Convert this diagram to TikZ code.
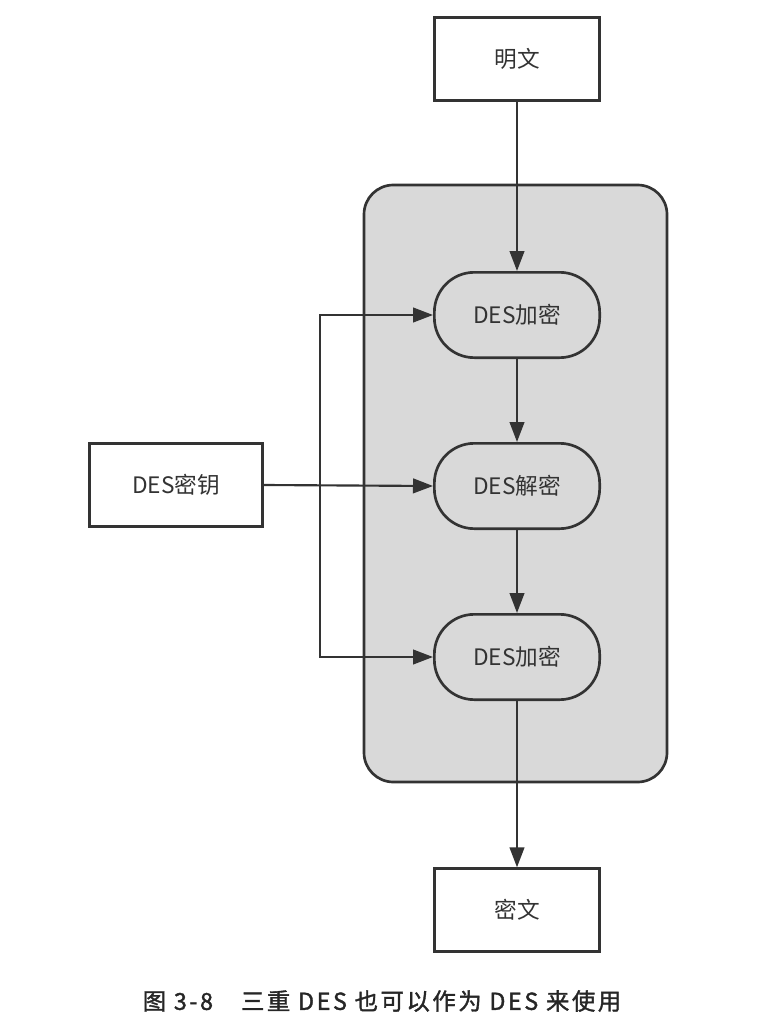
\documentclass[tikz,border=0pt]{standalone}
\usepackage{fontspec}
\setmainfont{Noto Sans CJK SC}
\newfontfamily\capfont[FakeBold=1.5,LetterSpace=11]{Noto Sans CJK SC}
\usetikzlibrary{arrows.meta}

\begin{document}
\begin{tikzpicture}[x=0.75pt,y=-0.75pt,line width=1.6pt,>={Triangle[length=15pt,width=11pt]},
    box/.style={draw=black!80,line width=2pt,minimum width=124pt,minimum height=62pt,inner sep=0pt,text=black!80,font=\fontsize{17}{20}\selectfont},
    stage/.style={box,rounded corners=30pt,minimum height=64pt}]
  \useasboundingbox (0,0) rectangle (764,1034);
  % grey frame round the three stages
  \draw[black!80,fill=black!15,line width=2pt,rounded corners=22pt] (364,185) rectangle (667,782);

  \node[box] (plain) at (517,59) {明文};
  \node[stage] (enc1) at (517,315) {DES加密};
  \node[stage] (dec) at (517,486) {DES解密};
  \node[stage] (enc2) at (517,657) {DES加密};
  \node[box] (cipher) at (517,910) {密文};
  \node[box,minimum width=130pt] (key) at (176,485) {DES密钥};
  \coordinate (bus) at (320,486);

  \draw[->,black!80] (plain) -- (enc1);
  \draw[->,black!80] (enc1) -- (dec);
  \draw[->,black!80] (dec) -- (enc2);
  \draw[->,black!80] (enc2) -- (cipher);
  \draw[->,black!80] (key.east) -- (dec.west);
  \draw[->,black!80] (bus) |- (enc1.west);
  \draw[->,black!80] (bus) |- (enc2.west);

  \node[text=black!85,font=\fontsize{17.5}{20}\capfont] (caption) at (382,1001) {图 3-8\hspace{1.2em}三重 DES 也可以作为 DES 来使用};
\end{tikzpicture}
\end{document}
